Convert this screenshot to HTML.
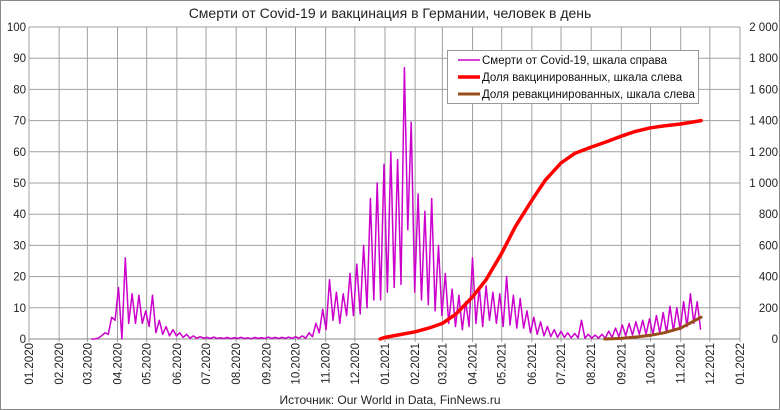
<!DOCTYPE html>
<html><head><meta charset="utf-8"><style>
body{margin:0;background:#fff;}
svg{display:block;font-family:"Liberation Sans",sans-serif;}
</style></head><body>
<svg id="chart" width="780" height="410" viewBox="0 0 780 410">
<rect x="0.5" y="0.5" width="779" height="409" fill="#fff" stroke="#888"/>
<text x="390" y="18" text-anchor="middle" font-size="14" fill="#222">Смерти от Covid-19 и вакцинация в Германии, человек в день</text>
<g id="grid"></g><g id="axes"></g><g id="series"></g>
<g>
<rect x="447.5" y="50.5" width="251" height="53" fill="#fff" stroke="#999"/>
<line x1="458" y1="60" x2="480" y2="60" stroke="#cc00cc" stroke-width="1.5"/>
<text x="482" y="64" font-size="11.5" fill="#111">Смерти от Covid-19, шкала справа</text>
<line x1="458" y1="77" x2="480" y2="77" stroke="#ff0000" stroke-width="3.5"/>
<text x="482" y="81" font-size="11.5" fill="#111">Доля вакцинированных, шкала слева</text>
<line x1="458" y1="94" x2="480" y2="94" stroke="#994d1a" stroke-width="3"/>
<text x="482" y="98" font-size="11.5" fill="#111">Доля ревакцинированных, шкала слева</text>
</g>
<text x="390" y="404" text-anchor="middle" font-size="12" fill="#222">Источник: Our World in Data, FinNews.ru</text>
</svg>
<script>
const monthLabels=["01.2020","02.2020","03.2020","04.2020","05.2020","06.2020","07.2020","08.2020","09.2020","10.2020","11.2020","12.2020","01.2021","02.2021","03.2021","04.2021","05.2021","06.2021","07.2021","08.2021","09.2021","10.2021","11.2021","12.2021","01.2022"];
const leftTicks=[0,10,20,30,40,50,60,70,80,90,100];
const rightTicks=["0","200","400","600","800","1 000","1 200","1 400","1 600","1 800","2 000"];
const deathStart="2020-03-05";
const deathStep=3.5;
const deaths=[0,0, 5,20, 40,30, 140,120, 330,0, 520,100, 290,100, 280,100, 180,80, 280,40, 120,30, 80,20, 60,20, 40,10, 30,5, 20,5, 15,5,
10,3, 12,4, 8,3, 10,2, 9,3, 11,3, 8,2, 10,3, 9,3, 12,4, 10,3, 11,4, 12,3,
15,5, 20,5, 40,15, 100,40, 190,60, 380,120, 300,100, 290,150, 420,150, 480,160, 600,200, 900,250, 1000,250,
1120,300, 1200,330, 1150,350, 1740,700, 1390,300, 930,250, 820,220, 900,180, 600,150, 420,100, 320,80, 280,60, 240,80,
520,100, 330,80, 340,120, 300,100, 290,80, 400,90, 280,70, 260,70, 180,40, 140,30, 110,20, 80,15, 60,10, 50,10, 40,8, 35,8,
120,5, 30,5, 25,5, 30,5, 50,10, 70,15, 90,20, 100,25, 110,30, 120,30, 130,30, 150,40, 170,40, 210,50, 200,60, 240,80, 290,100, 240,60];
const vaxDates=["2020-12-27","2021-01-01","2021-01-15","2021-02-01","2021-02-15","2021-03-01","2021-03-15","2021-04-01","2021-04-15","2021-05-01","2021-05-15","2021-06-01","2021-06-15","2021-07-01","2021-07-15","2021-08-01","2021-08-15","2021-09-01","2021-09-15","2021-10-01","2021-10-15","2021-11-01","2021-11-22"];
const vaxVals=[0,0.5,1.3,2.3,3.5,5,8,13.5,19,27.5,36,44.5,51,56.4,59.5,61.5,63,65,66.5,67.7,68.3,68.9,70];
const boostDates=["2021-08-15","2021-09-01","2021-09-15","2021-10-01","2021-10-15","2021-11-01","2021-11-10","2021-11-22"];
const boostVals=[0,0.2,0.6,1.2,2,3.5,5,7];
const X0=29,X1=740,Y0=339,Y1=27;
const t0=Date.UTC(2020,0,1),tEnd=Date.UTC(2022,0,1);
function dayOf(s){const p=s.split("-");return (Date.UTC(+p[0],p[1]-1,+p[2])-t0)/864e5;}
const totalDays=(tEnd-t0)/864e5;
function xD(d){return X0+d/totalDays*(X1-X0);}
function yL(v){return Y0-v/100*(Y0-Y1);}
function yR(v){return Y0-v/2000*(Y0-Y1);}
const NS="http://www.w3.org/2000/svg";
function mk(tag,attrs,parent){const e=document.createElementNS(NS,tag);for(const k in attrs)e.setAttribute(k,attrs[k]);parent.appendChild(e);return e;}
const grid=document.getElementById("grid"),axes=document.getElementById("axes"),ser=document.getElementById("series");
leftTicks.forEach((v,i)=>{
  const y=yL(v);
  const l=mk("line",{x1:X0,x2:X1,y1:y,y2:y,stroke:"#a0a0a0","stroke-width":1},grid);
  
  
  const t=mk("text",{x:26,y:y+4,"text-anchor":"end","font-size":11.5,fill:"#222"},axes);t.textContent=v;
  
  
  const r=mk("text",{x:778,y:y+4,"text-anchor":"end","font-size":11.5,fill:"#222"},axes);r.textContent=rightTicks[i];
  
  
});
monthLabels.forEach(m=>{
  const p=m.split(".");const d=dayOf(p[1]+"-"+p[0]+"-01");const x=xD(d);
  const l=mk("line",{x1:x,x2:x,y1:Y1,y2:Y0+3,stroke:"#a0a0a0","stroke-width":1},grid);
  
  
  const t=mk("text",{x:0,y:0,"text-anchor":"end","font-size":11.5,fill:"#222",transform:`translate(${x+4},343) rotate(-90)`},axes);t.textContent=m;
  
  
});
const ax=mk("line",{x1:X0,x2:X1,y1:Y0,y2:Y0,stroke:"#888"},grid);


const ds=dayOf(deathStart);
const dp=deaths.map((v,i)=>xD(ds+i*deathStep).toFixed(1)+","+yR(v).toFixed(1)).join(" ");
const dl=mk("polyline",{points:dp,fill:"none",stroke:"#cc00cc","stroke-width":1.5,"stroke-linejoin":"round"},ser);


const vp=vaxVals.map((v,i)=>xD(dayOf(vaxDates[i])).toFixed(1)+","+yL(v).toFixed(1)).join(" ");
const vl=mk("polyline",{points:vp,fill:"none",stroke:"#ff0000","stroke-width":3.5,"stroke-linejoin":"round","stroke-linecap":"round"},ser);


const bp=boostVals.map((v,i)=>xD(dayOf(boostDates[i])).toFixed(1)+","+yL(v).toFixed(1)).join(" ");
const bl=mk("polyline",{points:bp,fill:"none",stroke:"#994d1a","stroke-width":3,"stroke-linejoin":"round","stroke-linecap":"round"},ser);


</script>
</body></html>
